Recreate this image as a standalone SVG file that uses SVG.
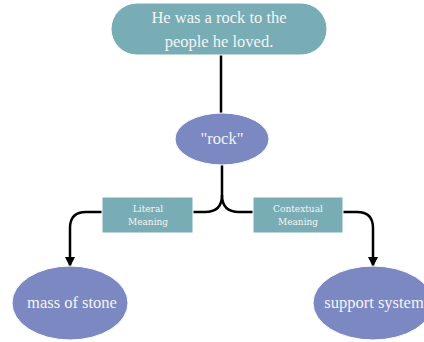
<svg xmlns="http://www.w3.org/2000/svg" width="424" height="342" viewBox="0 0 424 342">
<defs>
<marker id="arr" viewBox="0 0 10 10" refX="9" refY="5" markerWidth="4" markerHeight="4" orient="auto" markerUnits="strokeWidth">
<path d="M0,0 L10,5 L0,10 z" fill="#000"/>
</marker>
<style>
.teal{fill:#79adb5;stroke:#ffffff;stroke-width:1}
.blue{fill:#7b88c1;stroke:#ffffff;stroke-width:1}
.t{font-family:"Liberation Serif","DejaVu Serif",serif;fill:#f4f4f4;text-anchor:middle}
.big{font-size:16.5px}
.small{font-family:"DejaVu Serif","Liberation Serif",serif;font-size:9px}
.c{fill:none;stroke:#000;stroke-width:2.5}
</style>
</defs>
<rect width="424" height="342" fill="#ffffff"/>
<g id="connectors">
<path class="c" d="M221,55 V113"/>
<path class="c" d="M222,165 V195 Q222,212 205,212 H193"/>
<path class="c" d="M222,195 Q222,212 239,212 H253"/>
<path class="c" d="M102,212 H86 Q70,212 70,228 V266" marker-end="url(#arr)"/>
<path class="c" d="M343,212 H357 Q373,212 373,228 V266" marker-end="url(#arr)"/>
</g>
<g id="n-sentence">
<rect class="teal" x="111" y="3" width="216" height="52" rx="26"/>
<text class="t big" x="219" y="23">He was a rock to the</text>
<text class="t big" x="219" y="47">people he loved.</text>
</g>
<g id="n-rock">
<ellipse class="blue" cx="222" cy="139" rx="47" ry="26"/>
<text class="t big" x="222" y="144">"rock"</text>
</g>
<g id="n-literal">
<rect class="teal" x="102" y="197" width="91" height="36"/>
<text class="t small" x="148" y="212">Literal</text>
<text class="t small" x="148" y="225">Meaning</text>
</g>
<g id="n-contextual">
<rect class="teal" x="253" y="197" width="90" height="36"/>
<text class="t small" x="298" y="212">Contextual</text>
<text class="t small" x="298" y="225">Meaning</text>
</g>
<g id="n-stone">
<ellipse class="blue" cx="70" cy="303" rx="58" ry="37"/>
<text class="t big" x="72" y="308">mass of stone</text>
</g>
<g id="n-support">
<ellipse class="blue" cx="373" cy="303" rx="60" ry="37"/>
<text class="t big" x="374" y="308">support system</text>
</g>
</svg>
